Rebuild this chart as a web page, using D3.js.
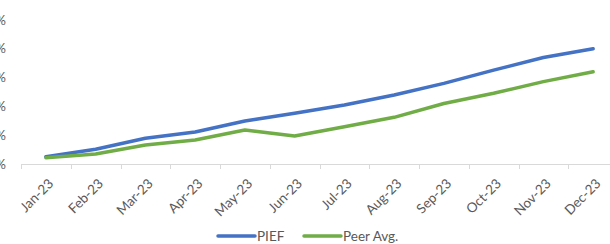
<!DOCTYPE html>
<html><head><meta charset="utf-8">
<script src="https://cdn.jsdelivr.net/npm/d3@7"></script>
<style>body{margin:0;background:#fff}svg{display:block}text{font-family:Lato,"Open Sans",sans-serif;fill:#595959}</style>
</head><body><svg id="c" width="610" height="244"></svg>
<script>
const months = ["Jan-23","Feb-23","Mar-23","Apr-23","May-23","Jun-23","Jul-23","Aug-23","Sep-23","Oct-23","Nov-23","Dec-23"];
const pief = [1.27,2.55,4.46,5.56,7.47,8.8,10.24,11.98,14.0,16.3,18.5,20.0];
const peer = [1.1,1.74,3.3,4.17,5.9,4.86,6.48,8.1,10.5,12.27,14.3,16.0];
const yTicks = [0,5,10,15,20,25];
const seriesNames = ["PIEF","Peer Avg."];
const colors = ["#4472C4","#70AD47"];

const svg = d3.select("#c");
const x = d3.scaleBand().domain(months).range([21,618]).padding(0);
const y = d3.scaleLinear().domain([0,25]).range([164,20]);

// y labels (cut at left edge, as in the reference)
svg.append("g").selectAll("text").data(yTicks).join("text")
  .attr("x",6).attr("y",d=>y(d)).attr("dy","0.35em")
  .attr("text-anchor","end").style("font-size","13px")
  .text(d=>d+"%");

// x axis
const xa = svg.append("g").attr("transform","translate(0,164)")
  .call(d3.axisBottom(x).tickSizeOuter(0).tickSize(0).tickFormat(""));
xa.select(".domain").attr("stroke","#d9d9d9").attr("stroke-width",1);
svg.append("g").selectAll("line").data(months).join("line")
  .attr("x1",d=>Math.round(x(d))+0.5).attr("x2",d=>Math.round(x(d))+0.5)
  .attr("y1",164).attr("y2",169).attr("stroke","#d9d9d9");
svg.append("g").selectAll("text").data(months).join("text")
  .attr("transform",d=>`translate(${x(d)+x.bandwidth()/2+5},181) rotate(-45)`)
  .attr("text-anchor","end").attr("dy","0.35em").style("font-size","13.5px")
  .text(d=>d);

const line = d3.line().x((d,i)=>x(months[i])+x.bandwidth()/2).y(d=>y(d));
[pief,peer].forEach((s,k)=>{
  svg.append("path").datum(s).attr("d",line).attr("fill","none")
    .attr("stroke",colors[k]).attr("stroke-width",3.5)
    .attr("stroke-linecap","round").attr("stroke-linejoin","round");
});

// legend
const lg = [{x:218,name:seriesNames[0],c:colors[0]},{x:304,name:seriesNames[1],c:colors[1]}];
lg.forEach(l=>{
  svg.append("line").attr("x1",l.x).attr("x2",l.x+37).attr("y1",236).attr("y2",236)
    .attr("stroke",l.c).attr("stroke-width",3.5).attr("stroke-linecap","round");
  svg.append("text").attr("x",l.x+39).attr("y",236).attr("dy","0.35em")
    .style("font-size","13.5px").text(l.name);
});
</script></body></html>
